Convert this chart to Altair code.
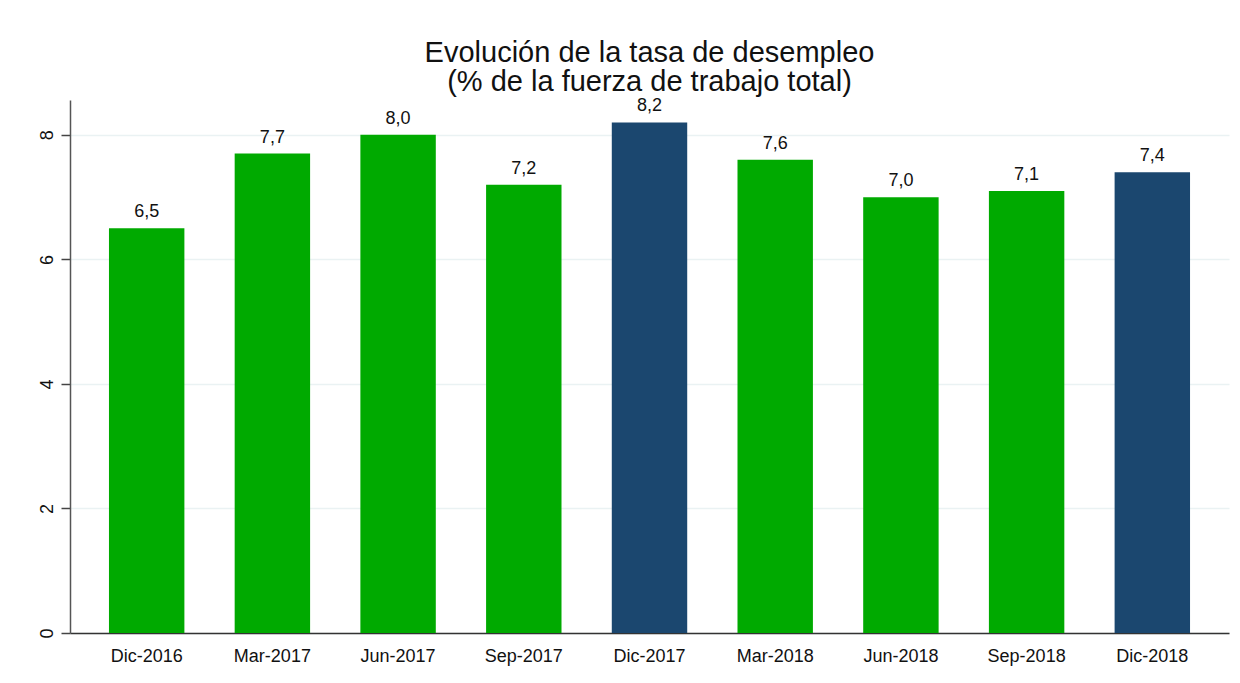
import altair as alt
import pandas as pd

periods = ["Dic-2016", "Mar-2017", "Jun-2017", "Sep-2017", "Dic-2017",
           "Mar-2018", "Jun-2018", "Sep-2018", "Dic-2018"]
rates = [6.5, 7.7, 8.0, 7.2, 8.2, 7.6, 7.0, 7.1, 7.4]
groups = ["trim", "trim", "trim", "trim", "anual", "trim", "trim", "trim", "anual"]

df = pd.DataFrame({"periodo": periods, "tasa": rates, "grupo": groups})

FONT = "Liberation Sans"

x = alt.X("periodo:N", sort=periods, title=None,
          scale=alt.Scale(paddingInner=0.4, paddingOuter=0.31),
          axis=alt.Axis(labelAngle=0, labelFontSize=18, labelColor="#111111",
                        labelFont=FONT, ticks=False, labelPadding=14,
                        domainColor="#333333", domainWidth=1.5, grid=False))
y = alt.Y("tasa:Q", title=None,
          scale=alt.Scale(domain=[0, 8.56], nice=False, zero=True),
          axis=alt.Axis(values=[0, 2, 4, 6, 8], format="d", labelAngle=270, labelAlign="center",
                        labelBaseline="bottom", labelFontSize=18, labelColor="#111111",
                        labelFont=FONT, tickSize=9, tickColor="#444444", tickWidth=1.5,
                        labelPadding=5, domainColor="#555555", domainWidth=1.5,
                        grid=True, gridColor="#EAF2F3", gridWidth=1.5))

bars = alt.Chart(df).mark_bar().encode(
    x=x, y=y,
    color=alt.Color("grupo:N", scale=alt.Scale(domain=["trim", "anual"],
                                               range=["#00AA00", "#1B476F"]),
                    legend=None),
)

labels = alt.Chart(df).transform_calculate(
    lab="replace(format(datum.tasa, '.1f'), '.', ',')"
).mark_text(baseline="bottom", dy=-7, fontSize=18, font=FONT, color="#111111").encode(
    x=alt.X("periodo:N", sort=periods),
    y=alt.Y("tasa:Q"),
    text="lab:N",
)

chart = alt.layer(bars, labels).properties(
    width=1159, height=533,
    title=alt.TitleParams(["Evolución de la tasa de desempleo", "(% de la fuerza de trabajo total)"],
                          anchor="middle", fontSize=29, font=FONT, fontWeight="normal",
                          color="#111111", offset=0, lineHeight=29),
    autosize=alt.AutoSizeParams(type="none"),
    padding={"left": 62, "top": 92, "right": 3, "bottom": 42},
).configure(background="white").configure_view(stroke=None)

chart.save("out.html", embed_options={"renderer": "svg", "actions": False})
